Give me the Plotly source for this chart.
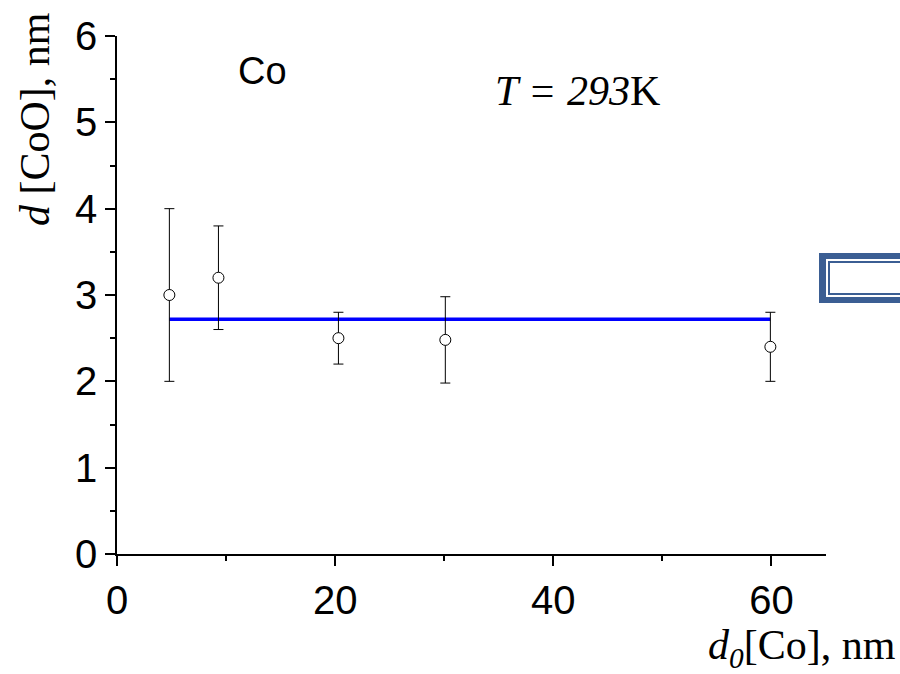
import plotly.graph_objects as go

# Data
d0_co = [4.8, 9.3, 20.3, 30.1, 59.9]
d_coo = [3.0, 3.2, 2.5, 2.48, 2.4]
err_plus = [1.0, 0.6, 0.3, 0.5, 0.4]
err_minus = [1.0, 0.6, 0.3, 0.5, 0.4]
fit_x = [4.8, 59.9]
fit_y = [2.72, 2.72]
x_ticks = [0, 20, 40, 60]
y_ticks = [0, 1, 2, 3, 4, 5, 6]

W, H = 900, 674
L, R, T, B = 117, 74, 36, 120
PW, PH = W - L - R, H - T - B


def px(x):
    return (x - L) / PW


def py(y):
    return (H - B - y) / PH


fig = go.Figure()
fig.add_trace(go.Scatter(
    x=fit_x, y=fit_y, mode="lines",
    line=dict(color="#0000ff", width=3.5), showlegend=False,
))
fig.add_trace(go.Scatter(
    x=d0_co, y=d_coo, mode="markers",
    marker=dict(symbol="circle", size=11, color="white",
                line=dict(color="black", width=1)),
    error_y=dict(type="data", array=err_plus, arrayminus=err_minus,
                 color="black", thickness=1, width=5, symmetric=False),
    showlegend=False,
))

axis_common = dict(
    showline=True, linecolor="black", linewidth=1.5,
    ticks="outside", ticklen=10, tickwidth=1.5, tickcolor="black",
    showgrid=False, zeroline=False,
    tickfont=dict(family="Arial, Liberation Sans", size=40, color="black"),
    mirror=False,
)
fig.update_xaxes(range=[0, 65], tickvals=x_ticks, **axis_common,
                 minor=dict(ticks="outside", ticklen=5, tickwidth=1.5,
                            tickcolor="black", dtick=10, tick0=0))
fig.update_yaxes(range=[0, 6], tickvals=y_ticks, **axis_common,
                 minor=dict(ticks="outside", ticklen=5, tickwidth=1.5,
                            tickcolor="black", dtick=0.5, tick0=0))

serif = dict(family="Times New Roman, Liberation Serif", size=42, color="black")
annotations = [
    dict(text="<i>d</i> [CoO], nm", xref="paper", yref="paper",
         x=px(35), y=py(119), textangle=-90, showarrow=False,
         xanchor="center", yanchor="middle", font=serif),
    dict(text="<i>d</i><sub><i>0</i></sub>[Co], nm", xref="paper", yref="paper",
         x=px(802), y=py(648), showarrow=False,
         xanchor="center", yanchor="middle", font=serif),
    dict(text="Co", xref="paper", yref="paper", x=px(262), y=py(71),
         showarrow=False, xanchor="center", yanchor="middle",
         font=dict(family="Arial, Liberation Sans", size=38, color="black")),
    dict(text="<i>T = 293</i>K", xref="paper", yref="paper", x=px(577), y=py(91),
         showarrow=False, xanchor="center", yanchor="middle", font=serif),
]

shapes = [
    dict(type="rect", xref="paper", yref="paper", x0=px(819), x1=px(910),
         y0=py(303), y1=py(253), fillcolor="#3b5e93", line=dict(width=0)),
    dict(type="rect", xref="paper", yref="paper", x0=px(826), x1=px(910),
         y0=py(297), y1=py(259), fillcolor="white", line=dict(width=0)),
    dict(type="rect", xref="paper", yref="paper", x0=px(829), x1=px(910),
         y0=py(294), y1=py(262), fillcolor="white",
         line=dict(color="#3b5e93", width=2)),
]

fig.update_layout(
    width=W, height=H,
    margin=dict(l=L, r=R, t=T, b=B),
    paper_bgcolor="white", plot_bgcolor="white",
    annotations=annotations, shapes=shapes,
)

fig.write_html("out.html")
